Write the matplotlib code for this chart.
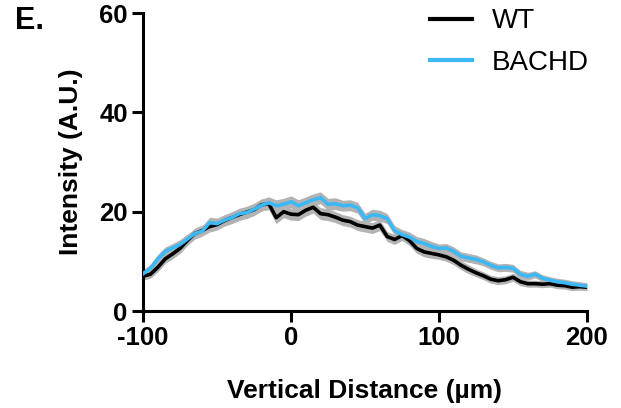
import numpy as np
import matplotlib
matplotlib.use("Agg")
import matplotlib.pyplot as plt

plt.rcParams['font.family'] = ['Liberation Sans', 'DejaVu Sans']
plt.rcParams['axes.unicode_minus'] = False

# vertical distance (um)
distance = np.arange(-100, 201, 5)

wt_mean = [7.0, 7.4, 8.8, 10.5, 11.5, 12.6, 14.2, 15.6, 16.2, 17.0,
           17.4, 18.2, 18.8, 19.4, 19.9, 20.4, 21.4, 21.6, 18.8, 20.0,
           19.5, 19.4, 20.3, 20.9, 19.6, 19.4, 18.9, 18.3, 18.0, 17.3,
           17.0, 16.7, 17.3, 15.0, 14.4, 15.2, 14.2, 12.6, 11.9, 11.6,
           11.3, 10.9, 10.2, 9.2, 8.4, 7.7, 7.1, 6.4, 6.1, 6.3,
           6.8, 5.9, 5.5, 5.5, 5.4, 5.5, 5.2, 5.1, 4.8, 4.9, 4.8]
wt_sem = [0.8, 0.8, 0.9, 0.9, 1.0, 1.0, 1.0, 1.1, 1.1, 1.1,
          1.1, 1.1, 1.2, 1.2, 1.2, 1.2, 1.2, 1.2, 1.2, 1.2,
          1.2, 1.2, 1.2, 1.2, 1.2, 1.2, 1.1, 1.1, 1.1, 1.1,
          1.1, 1.1, 1.1, 1.0, 1.0, 1.0, 1.0, 1.0, 1.0, 1.0,
          0.9, 0.9, 0.9, 0.9, 0.9, 0.8, 0.8, 0.8, 0.8, 0.8,
          0.8, 0.8, 0.7, 0.7, 0.7, 0.7, 0.7, 0.7, 0.7, 0.7, 0.7]

bachd_mean = [7.5, 8.6, 10.5, 12.0, 12.7, 13.4, 14.5, 15.6, 16.1, 17.8,
              17.6, 18.3, 18.8, 19.6, 19.8, 20.5, 21.3, 21.8, 21.2, 21.5,
              22.0, 21.2, 21.8, 22.4, 22.8, 21.5, 21.6, 21.2, 21.3, 20.8,
              18.6, 19.4, 19.2, 18.6, 16.2, 15.4, 14.9, 14.0, 13.6, 13.0,
              12.6, 12.7, 12.0, 11.0, 10.7, 10.4, 9.9, 9.2, 8.7, 8.8,
              8.6, 7.4, 7.0, 7.4, 6.6, 6.2, 5.9, 5.7, 5.4, 5.2, 5.0]
bachd_sem = [0.8, 0.8, 0.9, 0.9, 0.9, 1.0, 1.0, 1.0, 1.0, 1.1,
             1.1, 1.1, 1.1, 1.1, 1.2, 1.2, 1.2, 1.2, 1.2, 1.2,
             1.2, 1.2, 1.2, 1.2, 1.2, 1.2, 1.2, 1.1, 1.1, 1.1,
             1.1, 1.1, 1.1, 1.0, 1.0, 1.0, 1.0, 1.0, 1.0, 1.0,
             0.9, 0.9, 0.9, 0.9, 0.9, 0.9, 0.8, 0.8, 0.8, 0.8,
             0.8, 0.8, 0.8, 0.7, 0.7, 0.7, 0.7, 0.7, 0.7, 0.7, 0.7]

labels = ['WT', 'BACHD']
colors = ['black', '#3bb8f5']

fig = plt.figure(figsize=(6.21, 4.08), dpi=100)
ax = fig.add_axes([0.2303, 0.2377, 0.7149, 0.7303])

band = '#b3b3b3'
for m, s in [(wt_mean, wt_sem), (bachd_mean, bachd_sem)]:
    m = np.array(m)
    s = np.array(s)
    ax.fill_between(distance, m - s, m + s, color=band, lw=0, zorder=1)

ax.plot(distance, wt_mean, color=colors[0], lw=2.6, label=labels[0], zorder=2)
ax.plot(distance, bachd_mean, color=colors[1], lw=2.6, label=labels[1], zorder=3)

ax.set_xlim(-100, 200)
ax.set_ylim(0, 60)
ax.set_xticks([-100, 0, 100, 200])
ax.set_yticks([0, 20, 40, 60])

for side in ['top', 'right']:
    ax.spines[side].set_visible(False)
for side in ['left', 'bottom']:
    ax.spines[side].set_linewidth(2.2)
ax.tick_params(width=2.2, length=8, labelsize=18.5, pad=3)
for lab in ax.get_xticklabels() + ax.get_yticklabels():
    lab.set_fontweight('bold')

ax.set_xlabel('Vertical Distance (µm)', fontsize=19, fontweight='bold')
ax.xaxis.set_label_coords(0.5, -0.228)
ax.set_ylabel('Intensity (A.U.)', fontsize=19, fontweight='bold')
ax.yaxis.set_label_coords(-0.135, 0.5)

leg = ax.legend(loc='upper right', bbox_to_anchor=(1.06, 1.1), frameon=False,
                fontsize=20, handlelength=1.5, handletextpad=0.7,
                labelspacing=0.55)
for line in leg.get_lines():
    line.set_linewidth(3)

fig.text(0.024, 0.985, 'E.', fontsize=22, fontweight='bold', va='top', ha='left')

fig.savefig('out.png', dpi=100)
